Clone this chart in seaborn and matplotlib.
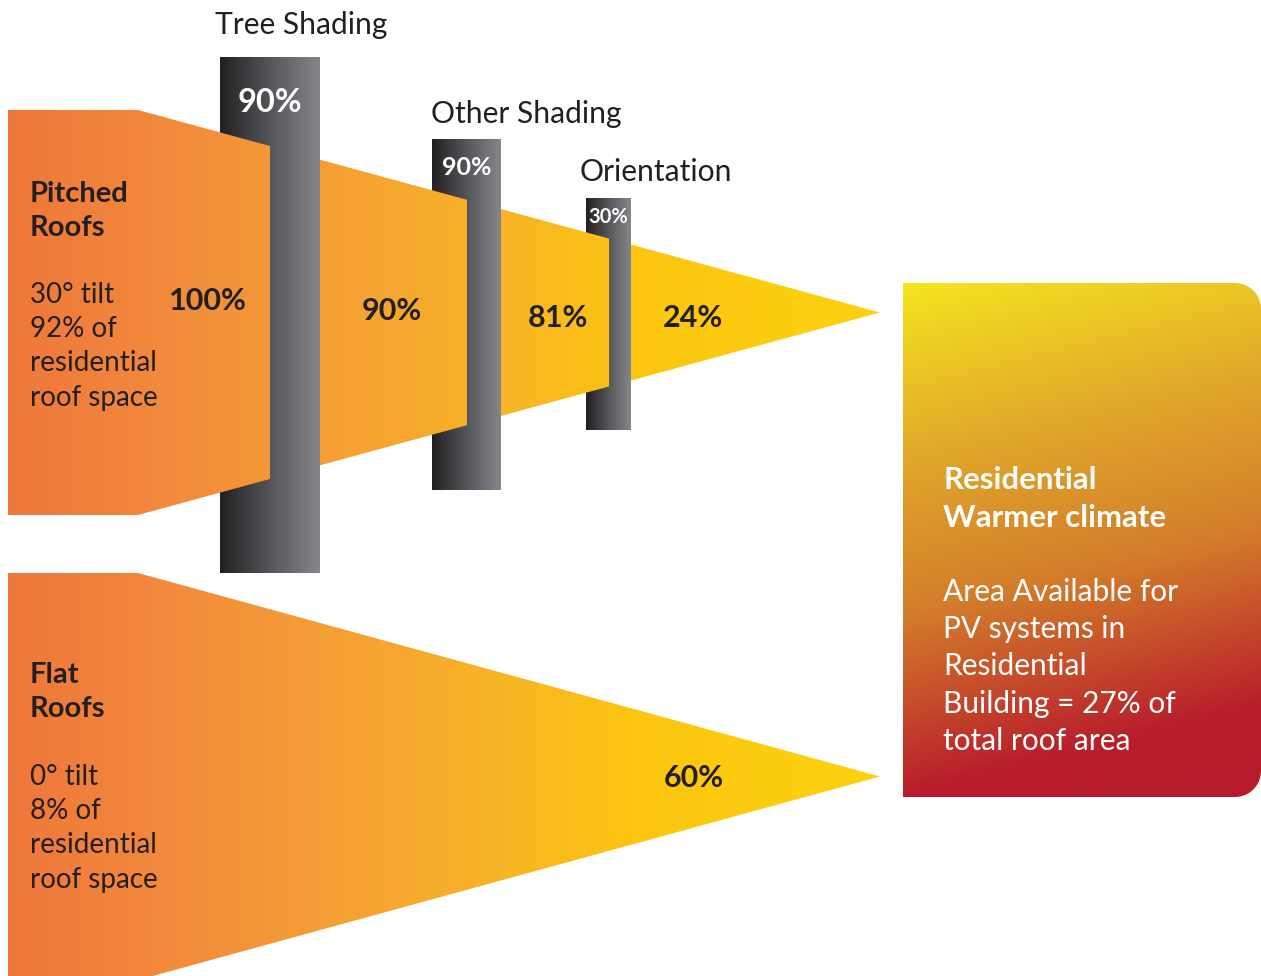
import numpy as np
import matplotlib
matplotlib.use("Agg")
import matplotlib.pyplot as plt
from matplotlib.path import Path
from matplotlib.patches import PathPatch
from matplotlib.colors import LinearSegmentedColormap
import seaborn as sns

# ---------------- data ----------------
filters = ["Tree Shading", "Other Shading", "Orientation"]
filter_values = ["90%", "90%", "30%"]
pitched_remaining = ["100%", "90%", "81%", "24%"]
flat_remaining = ["60%"]
roof_titles = [["Pitched", "Roofs"], ["Flat", "Roofs"]]
roof_notes = [["30° tilt", "92% of", "residential", "roof space"],
              ["0° tilt", "8% of", "residential", "roof space"]]
summary_title = ["Residential", "Warmer climate"]
summary_body = ["Area Available for", "PV systems in", "Residential",
                "Building = 27% of", "total roof area"]

# ---------------- style ----------------
sns.set_theme(style="white")
plt.rcParams['font.family'] = ['Lato', 'DejaVu Sans']
DARK = "#231f20"

cone_cmap = LinearSegmentedColormap.from_list(
    "cone", [(0.0, "#ef773b"), (0.163, "#f2883c"), (0.358, "#f59e36"),
             (0.564, "#f8b426"), (0.725, "#fcc610"), (1.0, "#fdd20f")])
gray_cmap = sns.blend_palette(["#221f20", "#55565a", "#848689"], as_cmap=True)
box_cmap = LinearSegmentedColormap.from_list(
    "box", [(0.0, "#f5e41f"), (0.3, "#e0a62a"), (0.55, "#d37e2b"),
            (0.85, "#b91e2a"), (1.0, "#b71c2a")])

W, H = 1261, 976
fig = plt.figure(figsize=(W / 100, H / 100), dpi=100)
ax = fig.add_axes([0, 0, 1, 1])
ax.set_xlim(0, W)
ax.set_ylim(H, 0)
ax.axis('off')

# ---------------- layout ----------------
CONE_X0, CONE_NECK, CONE_TIP = 8, 138, 880
pitched_box = (110, 515)
flat_box = (573, 980)
bars = [(220, 320, 57, 573), (432, 501, 139, 490), (586, 631, 198, 430)]
bar_label_base = [111.5, 175, 223]
bar_label_size = [23.5, 18, 14.5]
title_pos = [(215, 34), (431, 123), (580, 181)]
pitched_label_pos = [(208, 310), (392, 320), (558, 327), (693, 327)]
flat_label_pos = [(694, 787)]


def cone_path(top, bottom):
    mid = (top + bottom) / 2.0
    verts = [(CONE_X0, top), (CONE_NECK, top), (CONE_TIP, mid),
             (CONE_NECK, bottom), (CONE_X0, bottom), (CONE_X0, top)]
    return Path(verts, closed=True)


def hgrad(x0, x1, y0, y1, cmap, clip_path, zorder, gx0, gx1):
    xs = np.linspace(x0, x1, 400)
    vals = ((xs - gx0) / (gx1 - gx0))[None, :].repeat(2, axis=0)
    im = ax.imshow(vals, cmap=cmap, vmin=0, vmax=1, extent=(x0, x1, y1, y0),
                   origin='upper', aspect='auto', interpolation='bilinear',
                   zorder=zorder)
    if clip_path is not None:
        patch = PathPatch(clip_path, facecolor='none', edgecolor='none',
                          transform=ax.transData)
        ax.add_patch(patch)
        im.set_clip_path(patch)
    return im


# gray filter bars
for (bx0, bx1, by0, by1) in bars:
    hgrad(bx0, bx1, by0, by1, gray_cmap, None, 2, bx0, bx1)

# pitched cone segments (drawn over the left half of each bar)
pp = cone_path(*pitched_box)
seg_edges = [CONE_X0]
for (bx0, bx1, _, _) in bars:
    seg_edges += [(bx0 + bx1) / 2.0, bx1]
seg_edges.append(CONE_TIP)
for i in range(0, len(seg_edges), 2):
    hgrad(seg_edges[i], seg_edges[i + 1], pitched_box[0], pitched_box[1],
          cone_cmap, pp, 3, CONE_X0, CONE_TIP)

# flat cone
fp = cone_path(*flat_box)
hgrad(CONE_X0, CONE_TIP, flat_box[0], flat_box[1], cone_cmap, fp, 3,
      CONE_X0, CONE_TIP)

# summary box with rounded right corners
BX0, BX1, BY0, BY1, R = 903, 1261, 283, 797, 26
t = np.linspace(0, np.pi / 2, 20)
verts = [(BX0, BY0), (BX1 - R, BY0)]
verts += [(BX1 - R + R * np.sin(a), BY0 + R - R * np.cos(a)) for a in t]
verts += [(BX1, BY1 - R)]
verts += [(BX1 - R + R * np.cos(a), BY1 - R + R * np.sin(a)) for a in t]
verts += [(BX0, BY1), (BX0, BY0)]
box_path = Path(verts, closed=True)
gx = np.linspace(BX0, BX1, 200)
gy = np.linspace(BY0, BY1, 300)
GX, GY = np.meshgrid(gx, gy)
proj = 0.24 * (GX - BX0) + 0.97 * (GY - BY0)
proj = proj / proj.max()
im = ax.imshow(proj, cmap=box_cmap, vmin=0, vmax=1,
               extent=(BX0, BX1, BY1, BY0), origin='upper', aspect='auto',
               interpolation='bilinear', zorder=3)
bp = PathPatch(box_path, facecolor='none', edgecolor='none', transform=ax.transData)
ax.add_patch(bp)
im.set_clip_path(bp)

# ---------------- text ----------------
for name, (tx, ty) in zip(filters, title_pos):
    ax.text(tx, ty, name, fontsize=21.6, color=DARK, ha='left', va='baseline', zorder=5)

for val, (bx0, bx1, _, _), yb, fs in zip(filter_values, bars, bar_label_base, bar_label_size):
    ax.text((bx0 + bx1) / 2.0, yb, val, fontsize=fs, fontweight='bold',
            color='white', ha='center', va='baseline', zorder=5)

for val, (lx, ly) in zip(pitched_remaining, pitched_label_pos):
    ax.text(lx, ly, val, fontsize=22, fontweight='bold', color=DARK,
            ha='center', va='baseline', zorder=5)
for val, (lx, ly) in zip(flat_remaining, flat_label_pos):
    ax.text(lx, ly, val, fontsize=22, fontweight='bold', color=DARK,
            ha='center', va='baseline', zorder=5)

title_base = [202, 683]
note_base = [303, 785]
for k in range(2):
    for i, line in enumerate(roof_titles[k]):
        ax.text(30, title_base[k] + 34 * i, line, fontsize=21, fontweight='bold',
                color=DARK, ha='left', va='baseline', zorder=5)
    for i, line in enumerate(roof_notes[k]):
        ax.text(30, note_base[k] + 34.2 * i, line, fontsize=20,
                color=DARK, ha='left', va='baseline', zorder=5)

for i, line in enumerate(summary_title):
    ax.text(943, 489 + 38 * i, line, fontsize=22.4, fontweight='bold',
            color='white', ha='left', va='baseline', zorder=5)
for i, line in enumerate(summary_body):
    ax.text(943, 601 + 37.2 * i, line, fontsize=21.5,
            color='white', ha='left', va='baseline', zorder=5)

fig.savefig("out.png", dpi=100, facecolor='white')
